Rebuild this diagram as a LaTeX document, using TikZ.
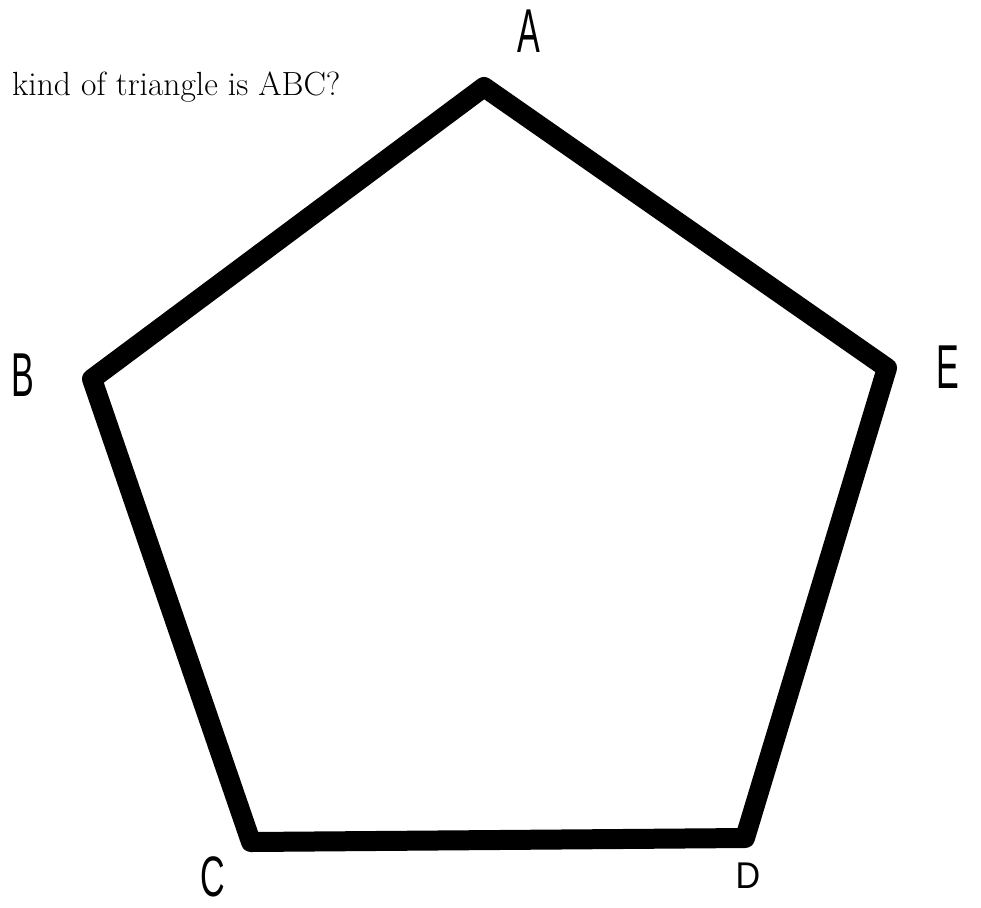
\documentclass[tikz,border=0pt]{standalone}
\usepackage{fontspec}
\newfontfamily\handfont{Liberation Sans}
\usetikzlibrary{positioning}

\begin{document}
\begin{tikzpicture}[
  x=1pt, y=-1pt,
  edge/.style={draw, line width=20pt, line join=round},
  vlabel/.style={font=\handfont\fontsize{62}{62}\selectfont, inner sep=0pt, xscale=0.55},
  question/.style={font=\fontsize{33.5}{36}\selectfont, anchor=base west, inner sep=0pt}
]
\useasboundingbox (0,0) rectangle (981,907);

% corners of the pentagon
\coordinate (A) at (484,87);
\coordinate (B) at (92,379);
\coordinate (C) at (251,842);
\coordinate (D) at (745,838);
\coordinate (E) at (887,368);

\draw[edge] (A) -- (B) -- (C) -- (D) -- (E) -- cycle;

\node[question] (q) at (12,95) {kind of triangle is ABC?};

\node[vlabel] (lA) at (529,31)  {A};
\node[vlabel] (lB) at (23,375)  {B};
\node[vlabel, yscale=0.92] (lC) at (213,877) {C};
\node[vlabel, yscale=0.6] (lD) at (748,876) {D};
\node[vlabel] (lE) at (948,367) {E};
\end{tikzpicture}
\end{document}
